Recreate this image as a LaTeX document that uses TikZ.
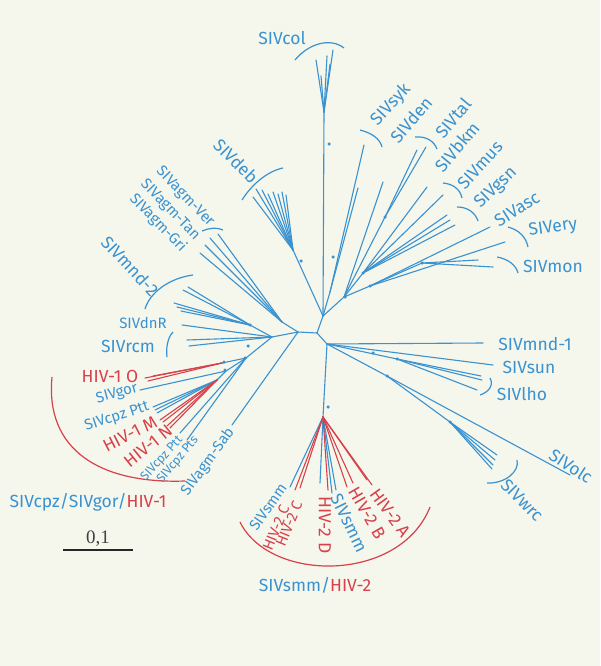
\documentclass[tikz,border=0pt]{standalone}
\usepackage{fontspec}
\newfontfamily\labfont{Fira Sans}
\newfontfamily\numfont{Liberation Serif}
\definecolor{sivblue}{RGB}{58,146,208}
\definecolor{hivred}{RGB}{216,64,74}
\definecolor{paper}{RGB}{245,247,237}
\tikzset{
  br/.style={draw=sivblue, line width=1.1pt, line cap=round},
  hv/.style={br, draw=hivred},
  brk/.style={draw=sivblue, line width=1.2pt},
  hbrk/.style={draw=hivred, line width=1.2pt},
  lab/.style={text=sivblue, inner sep=0pt, font=\labfont\fontsize{17.5}{17.5}\selectfont},
  hlab/.style={lab, text=hivred},
  sm/.style={font=\labfont\fontsize{15}{15}\selectfont},
  xs/.style={font=\labfont\fontsize{12.5}{12.5}\selectfont},
  dot/.style={circle, fill=sivblue, inner sep=0pt, minimum size=3.5pt}
}
\begin{document}
\begin{tikzpicture}[x=1pt,y=-1pt]
\fill[paper] (0,0) rectangle (600,666);
\useasboundingbox (0,0) rectangle (600,666);

% inner nodes
\coordinate (a) at (323,316);
\coordinate (b) at (317,333);
\coordinate (c) at (298,332);
\coordinate (d) at (327,344);
\draw[br] (a) -- (b) -- (c);
\draw[br] (b) -- (d);

% upper clade
\coordinate (pcol) at (324,112);
\coordinate (pdeb) at (293,250);
\coordinate (ksyk) at (330,292);
\coordinate (k1) at (344,297);
\coordinate (ktal) at (385,217);
\coordinate (k2) at (363,273);
\coordinate (k3) at (370,286);
\coordinate (kmon) at (422,263);
\draw[br] (a) -- (pcol);
\draw[br] (a) -- (pdeb);
\draw[br] (a) -- (ksyk);
\draw[br] (a) -- (k1) -- (ktal);
\draw[br] (k1) -- (k2);
\draw[br] (k1) -- (k3) -- (kmon);
\foreach \x/\y [count=\i] in {316/60,321/76,327/56,333/50,330/64}
  {\coordinate (col\i) at (\x,\y); \draw[br] (pcol) -- (col\i);}
\foreach \x/\y [count=\i] in {253/197,256/189,262/190,268/194,273/192,278/194,282/192,286/195}
  {\coordinate (deb\i) at (\x,\y); \draw[br] (pdeb) -- (deb\i);}
\foreach \x/\y [count=\i] in {364/145,358/188}
  {\coordinate (syk\i) at (\x,\y); \draw[br] (ksyk) -- (syk\i);}
\coordinate (den1) at (383,182);
\draw[br] (k1) -- (den1);
\foreach \x/\y [count=\i] in {417/150,426/147}
  {\coordinate (tal\i) at (\x,\y); \draw[br] (ktal) -- (tal\i);}
\foreach \x/\y [count=\i] in {427/187,443/195,450/220,455/225,447/215}
  {\coordinate (gsn\i) at (\x,\y); \draw[br] (k2) -- (gsn\i);}
\foreach \x/\y [count=\i] in {490/227,505/242}
  {\coordinate (asc\i) at (\x,\y); \draw[br] (k3) -- (asc\i);}
\foreach \x/\y [count=\i] in {478/260,493/267}
  {\coordinate (mon\i) at (\x,\y); \draw[br] (kmon) -- (mon\i);}

% left clades
\coordinate (kagm) at (282,322);
\coordinate (m2) at (272,337);
\coordinate (kmnd) at (250,325);
\coordinate (h1) at (246,358);
\coordinate (ko) at (222,363);
\coordinate (kg) at (226,371);
\coordinate (kc) at (217,380);
\coordinate (sab) at (232,425);
\draw[br] (c) -- (kagm);
\draw[br] (c) -- (m2) -- (kmnd);
\draw[br] (m2) -- (h1) -- (ko);
\draw[br] (h1) -- (kg) -- (kc);
\draw[br] (c) -- (sab);
\foreach \x/\y [count=\i] in {200/253,205/245,210/238,218/234}
  {\coordinate (agm\i) at (\x,\y); \draw[br] (kagm) -- (agm\i);}
\foreach \x/\y [count=\i] in {183/290,188/287,174/303,177/307,181/311}
  {\coordinate (mnd\i) at (\x,\y); \draw[br] (kmnd) -- (mnd\i);}
\foreach \x/\y [count=\i] in {182/325,187/340,189/346}
  {\coordinate (rcm\i) at (\x,\y); \draw[br] (m2) -- (rcm\i);}
\foreach \x/\y [count=\i] in {145/378,148/381,153/376}
  {\coordinate (hio\i) at (\x,\y); \draw[hv] (ko) -- (hio\i);}
\coordinate (gor1) at (140,390);
\draw[br] (kg) -- (gor1);
\foreach \x/\y [count=\i] in {153/407,155/410,157/413}
  {\coordinate (ptt\i) at (\x,\y); \draw[br] (kc) -- (ptt\i);}
\foreach \x/\y [count=\i] in {160/420,163/422,167/426,170/428}
  {\coordinate (him\i) at (\x,\y); \draw[hv] (kc) -- (him\i);}
\foreach \x/\y [count=\i] in {180/433,187/440}
  {\coordinate (pts\i) at (\x,\y); \draw[br] (h1) -- (pts\i);}

% right clades
\coordinate (mnd1) at (483,343);
\coordinate (sun1) at (493,365);
\coordinate (klho) at (397,359);
\coordinate (w1) at (387,376);
\coordinate (w2) at (450,422);
\coordinate (olc1) at (570,475);
\draw[br] (d) -- (mnd1);
\draw[br] (d) -- (sun1);
\draw[br] (d) -- (klho);
\draw[br] (d) -- (w1) -- (olc1);
\draw[br] (w1) -- (w2);
\foreach \x/\y [count=\i] in {481/376,482/380,477/390}
  {\coordinate (lho\i) at (\x,\y); \draw[br] (klho) -- (lho\i);}
\foreach \x/\y [count=\i] in {497/455,495/460,493/465,492/469}
  {\coordinate (wrc\i) at (\x,\y); \draw[br] (w2) -- (wrc\i);}

% HIV-2 clade
\coordinate (n2) at (323,417);
\draw[br] (d) -- (n2);
\foreach \x/\y [count=\i] in {290/487,320/483,332/493,336/490}
  {\coordinate (smm\i) at (\x,\y); \draw[br] (n2) -- (smm\i);}
\foreach \x/\y [count=\i] in {295/490,300/488,328/490,347/487,353/483,367/480,372/485}
  {\coordinate (hi2\i) at (\x,\y); \draw[hv] (n2) -- (hi2\i);}

% support dots
\foreach \x/\y [count=\i] in {329/144,301/261,333/257,345/297,363/273,370/286,385/217,422/263,
    250/325,248/346,245/358,224/362,225/370,373/353,397/359,387/376,450/422,328/407}
  \node[dot] (dt\i) at (\x,\y) {};

% brackets
\draw[brk] (295,60) .. controls (308,44) and (330,37) .. (344,48);
\draw[brk] (360,130) .. controls (372,133) and (380,139) .. (382,147);
\draw[brk] (415,137) .. controls (426,136) and (434,141) .. (437,149);
\draw[brk] (443,183) .. controls (453,184) and (460,189) .. (462,198);
\draw[brk] (457,207) .. controls (467,207) and (475,212) .. (478,221);
\draw[brk] (508,227) .. controls (519,230) and (526,237) .. (528,247);
\draw[brk] (497,257) .. controls (508,259) and (516,265) .. (518,273);
\draw[brk] (242,200) .. controls (252,184) and (268,171) .. (283,168);
\draw[brk] (202,231) .. controls (209,228) and (217,227) .. (223,230);
\draw[brk] (193,275) .. controls (170,278) and (150,292) .. (145,309);
\draw[brk] (173,332) .. controls (167,338) and (166,350) .. (167,357);
\draw[brk] (490,378) .. controls (494,385) and (489,392) .. (480,395);
\draw[brk] (517,460) .. controls (520,472) and (504,484) .. (487,483);
\draw[hbrk] (52,377) .. controls (45,450) and (100,484) .. (185,481);
\draw[hbrk] (240,522) .. controls (270,583) and (400,583) .. (430,507);

% labels
\node[lab] (lcol) at (282,38) {SIVcol};
\node[lab, rotate=47] (lsyk) at (391,105) {SIVsyk};
\node[lab, rotate=50] (lden) at (411,120) {SIVden};
\node[lab, rotate=50] (ltal) at (453,118) {SIVtal};
\node[lab, rotate=50] (lbkm) at (457,147) {SIVbkm};
\node[lab, rotate=48] (lmus) at (480,165) {SIVmus};
\node[lab, rotate=44] (lgsn) at (496,188) {SIVgsn};
\node[lab, rotate=32] (lasc) at (517,209) {SIVasc};
\node[lab, rotate=8] (lery) at (553,228) {SIVery};
\node[lab] (lmon) at (553,266) {SIVmon};
\node[lab, rotate=-45] (ldeb) at (236,161) {SIVdeb};
\node[lab, sm, rotate=-46] (lver) at (185,197) {SIVagm-Ver};
\node[lab, sm, rotate=-46] (ltan) at (170,210) {SIVagm-Tan};
\node[lab, sm, rotate=-46] (lgri) at (158,223) {SIVagm-Gri};
\node[lab, rotate=-47] (lmnd2) at (130,266) {SIVmnd-2};
\node[lab, sm] (ldnr) at (143,323) {SIVdnR};
\node[lab] (lrcm) at (128,346) {SIVrcm};
\node[hlab] (lhio) at (110,376) {HIV-1 O};
\node[lab, sm, rotate=15] (lgor) at (117,394) {SIVgor};
\node[lab, sm, rotate=18] (lptt) at (117,417) {SIVcpz Ptt};
\node[hlab, rotate=27] (lhim) at (130,434) {HIV-1 M};
\node[hlab, rotate=39] (lhin) at (148,446) {HIV-1 N};
\node[lab, xs, rotate=48] (lptt2) at (162,459) {SIVcpz Ptt};
\node[lab, xs, rotate=50] (lpts) at (178,460) {SIVcpz Pts};
\node[lab, sm, rotate=54] (lsab) at (208,462) {SIVagm-Sab};
\node[lab] (lcpz) at (88,502) {SIVcpz/SIVgor/\textcolor{hivred}{HIV-1}};
\node[lab] (lmnd1) at (535,344) {SIVmnd-1};
\node[lab] (lsun) at (529,367) {SIVsun};
\node[lab] (llho) at (522,394) {SIVlho};
\node[lab, rotate=-33] (lolc) at (571,466) {SIVolc};
\node[lab, rotate=-45] (lwrc) at (522,500) {SIVwrc};
\node[lab, sm, rotate=55] (lsmm1) at (268,507) {SIVsmm};
\node[hlab, sm, rotate=68] (lhic1) at (276,528) {HIV-2 C};
\node[hlab, sm, rotate=68] (lhic2) at (289,524) {HIV-2 C};
\node[hlab, rotate=-90] (lhid) at (325,525) {HIV-2 D};
\node[lab, rotate=-64] (lsmm2) at (349,523) {SIVsmm};
\node[hlab, rotate=-60] (lhib) at (367,513) {HIV-2 B};
\node[hlab, rotate=-54] (lhia) at (390,513) {HIV-2 A};
\node[lab] (lhiv2) at (315,585) {SIVsmm/\textcolor{hivred}{HIV-2}};

% scale
\coordinate (s0) at (63,550);
\coordinate (s1) at (133,550);
\draw[line width=2.2pt, black!85] (s0) -- (s1);
\node[text=black!75, inner sep=0pt, font=\numfont\fontsize{19}{19}\selectfont] (sc) at (98,539) {0,1};
\end{tikzpicture}
\end{document}
